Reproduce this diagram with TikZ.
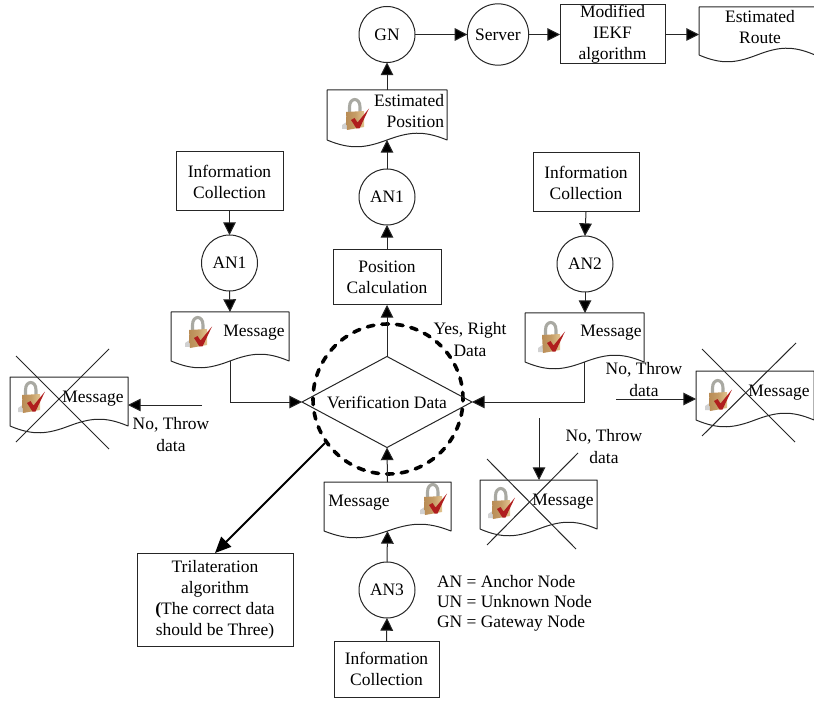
\documentclass[tikz,border=0pt]{standalone}
\usepackage{fontspec}
\setmainfont{Liberation Serif}
\usetikzlibrary{arrows.meta,shapes.geometric}
\newcommand{\docbox}[5]{%
  \node[docnode,minimum width={#4*0.75pt},minimum height={#5*0.75pt}] (#1) at ({#2+#4/2},{#3+#5/2}) {};
  \draw[thinline,line join=round] (#1.south west) -- (#1.north west) -- (#1.north east) -- (#1.south east)
    .. controls ({#2+0.8*#4},{#3+#5-10}) and ({#2+0.68*#4},{#3+#5-8}) .. (#1.south)
    .. controls ({#2+0.32*#4},{#3+#5+8}) and ({#2+0.2*#4},{#3+#5+10}) .. (#1.south west);
}
\newcommand{\crossout}[8]{%
  \draw[thinline] (#1,#2) -- (#3,#4);
  \draw[thinline] (#5,#6) -- (#7,#8);
}
\definecolor{lockdark}{HTML}{B98C55}
\definecolor{locklight}{HTML}{E2C48F}
\definecolor{shackle}{HTML}{A9A9A2}
\definecolor{checkred}{HTML}{B01E1E}
\tikzset{
  x=0.75pt,y=-0.75pt,
  txt/.style={font=\fontsize{13.1}{15.8}\selectfont,align=center,inner sep=0pt,outer sep=0pt},
  thinline/.style={line width=0.75pt,draw=black!85},
  docnode/.style={draw=none,inner sep=0pt,outer sep=0pt},
  boxnode/.style={thinline,rectangle,inner sep=0pt,outer sep=0pt,font=\fontsize{13.1}{15.8}\selectfont,align=center},
  roundnode/.style={thinline,circle,inner sep=0pt,outer sep=0pt,minimum size=42pt,font=\fontsize{13.1}{15.8}\selectfont},
  conn/.style={thinline,-{Triangle[length=9.5pt,width=9.5pt,fill=black]}},
  boldconn/.style={line width=1.4pt,draw=black,-{Triangle[length=12pt,width=10.5pt,fill=black]}},
  lock/.pic={
    \fill[black!45,opacity=.4] (-4,13) -- (2,9) -- (3,17) -- (-4,17) -- cycle;
    \draw[shackle,line width=2.3pt] (3.5,1) -- (3.5,-5) .. controls (3.5,-15) and (14,-15) .. (14,-5) -- (14,1);
    \shade[left color=lockdark,right color=locklight,middle color=lockdark!70!locklight] (0,0) -- (18,-1) -- (18,15) -- (1,18) -- cycle;
    \fill[checkred] (5,8) -- (8.5,6) -- (11.5,10.5) -- (23,-3.5) -- (13.5,16.5) -- (10.5,16.5) -- cycle;
  }
}
\begin{document}
\begin{tikzpicture}
\useasboundingbox (0,0) rectangle (814,702);
% dashed circle and diamond
\node[circle,draw=black,line width=2.7pt,dash pattern=on 5pt off 6pt,line cap=round,minimum size=112.5pt,inner sep=0pt] (ring) at (388,399) {};
\node[thinline,diamond,aspect=1.87,inner sep=0pt,outer sep=0pt,minimum width=127.5pt,minimum height=68.25pt,font=\fontsize{13.1}{15.8}\selectfont] (verify) at (387,402) {Verification Data};
% top row
\node[roundnode] (gn) at (387,34.5) {GN};
\node[roundnode,minimum size=46pt] (server) at (498,34.5) {Server};
\node[boxnode,minimum width=78.75pt,minimum height=44.25pt] (iekf) at (612.5,34.5) {Modified\\IEKF\\algorithm};
\docbox{route}{699}{7}{116}{48}
\node[txt] (routetxt) at (760,27) {Estimated\\Route};
% centre column
\docbox{epos}{327}{90}{120}{50}
\node[txt,align=right,anchor=east] (epostxt) at (444,111) {Estimated\\Position};
\node[roundnode] (an1c) at (387,197) {AN1};
\node[boxnode,minimum width=81pt,minimum height=41.25pt] (pos) at (387,277.5) {Position\\Calculation};
\docbox{msgb}{324}{482}{127}{49}
\node[txt] (msgbtxt) at (359,503) {Message};
\node[roundnode] (an3) at (387,590) {AN3};
\node[boxnode,minimum width=78.75pt,minimum height=42pt] (infob) at (386.5,669) {Information\\Collection};
% left column
\node[boxnode,minimum width=80.25pt,minimum height=44.25pt] (infol) at (229.5,181.5) {Information\\Collection};
\node[roundnode] (an1l) at (229.5,263) {AN1};
\docbox{msgl}{171}{312}{118}{49}
\node[txt] (msgltxt) at (254,333) {Message};
\docbox{crossl}{10}{377}{118}{49}
\node[txt] (crossltxt) at (93,399) {Message};
% right column
\node[boxnode,minimum width=79.5pt,minimum height=44.25pt] (infor) at (586,182.5) {Information\\Collection};
\node[roundnode] (an2) at (585,264) {AN2};
\docbox{msgr}{525}{313}{119}{49}
\node[txt] (msgrtxt) at (611,333) {Message};
\docbox{crossr}{696}{371}{118}{49}
\node[txt] (crossrtxt) at (779,393) {Message};
\docbox{crossb}{480}{480}{117}{49}
\node[txt] (crossbtxt) at (563,502) {Message};
% trilateration box
\node[boxnode,minimum width=117pt,minimum height=69.75pt] (tri) at (215,599.5) {Trilateration\\algorithm\\{\bfseries(}The correct data\\should be Three)};
% locks
\pic at (346,112) {lock};
\pic at (189,330) {lock};
\pic at (22,395) {lock};
\pic at (542,335) {lock};
\pic at (424,497) {lock};
\pic at (492,501) {lock};
\pic at (709,393) {lock};
% crossing lines
\crossout{16}{356}{109}{449}{16}{442}{109}{349}
\crossout{487}{459}{576}{549}{578}{453}{487}{545}
\crossout{702}{349}{795}{442}{796}{343}{702}{436}
% labels
\node[txt] (lblyes) at (470,339.5) {Yes, Right\\Data};
\node[txt] (lblnol) at (171,434.5) {No, Throw\\data};
\node[txt] (lblnor) at (644,379.5) {No, Throw\\data};
\node[txt] (lblnob) at (604,446.5) {No, Throw\\data};
\node[txt,anchor=west] (legan) at (437,582) {AN = Anchor Node};
\node[txt,anchor=west] (legun) at (437,602) {UN = Unknown Node};
\node[txt,anchor=west] (leggn) at (437,623) {GN = Gateway Node};
% free ends
\coordinate (fl) at (202,405);
\coordinate (fr) at (616,399);
\coordinate (fb) at (539,418);
\coordinate (fd) at (325,443);
% connectors
\draw[conn] (gn) -- (server);
\draw[conn] (server) -- (iekf);
\draw[conn] (iekf.east) -- (iekf.east -| route.west);
\draw[conn] (epos.north) -- (gn.south);
\draw[conn] (an1c.north) -- (epos.south);
\draw[conn] (pos.north) -- (an1c.south);
\draw[conn] (verify.north) -- (pos.south);
\draw[conn] (msgb.north) -- (verify.south);
\draw[conn] (an3.north) -- (msgb.south);
\draw[conn] (infob.north) -- (an3.south);
\draw[conn] (infol.south) -- (an1l.north);
\draw[conn] (an1l.south) -- (msgl.north);
\draw[conn] (msgl.south) |- (verify.west);
\draw[conn] (infor.south) -- (an2.north);
\draw[conn] (an2.south) -- (an2.south |- msgr.north);
\draw[conn] (msgr.south) |- (verify.east);
\draw[conn] (fl) -- (fl -| crossl.east);
\draw[conn] (fr) -- (fr -| crossr.west);
\draw[conn] (fb) -- (fb |- crossb.north);
\draw[boldconn] (fd) -- (tri.north);
\end{tikzpicture}
\end{document}
